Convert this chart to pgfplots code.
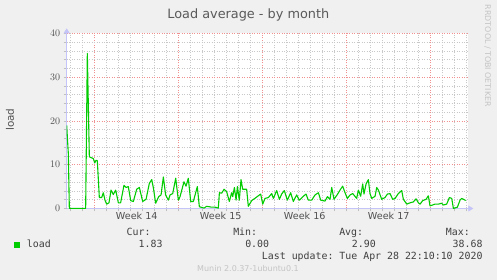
\documentclass[border=0pt]{standalone}
\usepackage{fontspec}
\setmainfont{DejaVu Sans}
\setmonofont{DejaVu Sans Mono}
\usepackage{pgfplots}
\pgfplotsset{compat=1.18}
\usetikzlibrary{arrows.meta}
\definecolor{bg}{HTML}{F0F0F0}
\definecolor{gridred}{HTML}{F09090}
\definecolor{gridgray}{HTML}{C8C8C8}
\definecolor{axiscol}{HTML}{C4C4F8}
\definecolor{linegreen}{HTML}{00CC00}
\definecolor{titlegray}{HTML}{5A5A5A}
\definecolor{labgray}{HTML}{505050}
\definecolor{leggray}{HTML}{404040}
\definecolor{faint}{HTML}{C4C4C4}
\begin{document}
\begin{tikzpicture}[x=1pt,y=1pt]
\fill[bg] (0,0) rectangle (497,280);
\begin{axis}[
  at={(66.7pt,71.5pt)}, anchor=south west,
  scale only axis, width=401.6pt, height=175.2pt,
  xmin=-2.333, xmax=31.13, ymin=0, ymax=40,
  axis background/.style={fill=white},
  axis x line=bottom, axis y line=left,
  axis line style={draw=axiscol, line width=0.8pt, shorten >=-5pt, -{Triangle[length=5pt,width=6pt]}},
  xtick={0,7,14,21,28}, xticklabels={},
  minor xtick={-2,-1,1,2,3,4,5,6,8,9,10,11,12,13,15,16,17,18,19,20,22,23,24,25,26,27,29,30,31},
  ytick={0,10,20,30,40},
  minor ytick={2,4,6,8,12,14,16,18,22,24,26,28,32,34,36,38},
  grid=both,
  major grid style={draw=gridred, dash pattern=on 1pt off 1.5pt, line width=0.6pt},
  minor grid style={draw=gridgray, dash pattern=on 1pt off 1.5pt, line width=0.6pt},
  tick align=outside, major tick length=3pt, minor tick length=3pt,
  tick style={draw=gray!50, line width=0.5pt},
  extra x ticks={3.5,10.5,17.5,24.5},
  extra x tick labels={Week 14,Week 15,Week 16,Week 17},
  extra x tick style={grid=none, major tick length=0pt, tick style={draw=none}},
  ticklabel style={font=\fontsize{9.6}{11}\selectfont, text=labgray},
  clip=true,
]
\addplot[linegreen, line width=1.1pt, line join=round] coordinates {
(-2.336,19.0) (-2.197,12.5) (-2.114,0) (-0.753,0) (-0.614,35.4) (-0.447,11.8) (-0.114,11.4) (0.0,10.4) (0.108,11.0) (0.219,10.9) (0.386,2.5) (0.581,2.5) (0.719,3.6) (0.858,1.9) (0.997,1.0) (1.19,1.3) (1.36,4.2) (1.55,3.2) (1.75,4.2) (1.97,1.3) (2.16,1.3) (2.44,5.3) (2.61,4.8) (2.80,5.0) (3.00,1.8) (3.22,1.6) (3.50,4.4) (3.72,4.8) (4.00,1.6) (4.28,2.1) (4.55,5.7) (4.75,6.6) (4.89,4.7) (5.08,1.2) (5.33,2.7) (5.53,3.1) (5.72,7.2) (5.91,3.1) (6.14,1.9) (6.28,3.1) (6.50,3.4) (6.75,6.9) (6.97,1.9) (7.11,2.7) (7.44,6.1) (7.61,5.1) (7.80,6.9) (8.00,1.6) (8.22,1.6) (8.55,5.0) (8.72,0.4) (9.11,0.1) (9.33,0.5) (9.75,0.3) (10.03,0.3) (10.30,0.1) (10.39,3.6) (10.58,3.5) (10.78,4.4) (11.0,3.8) (11.22,1.6) (11.41,3.6) (11.50,2.7) (11.64,4.8) (11.78,1.9) (11.89,5.0) (12.05,1.9) (12.19,6.6) (12.33,4.4) (12.66,4.4) (12.80,0.5) (13.08,1.8) (13.44,2.5) (13.83,3.3) (14.0,1.0) (14.19,2.3) (14.47,2.5) (14.75,3.4) (14.89,2.3) (15.16,4.1) (15.39,2.1) (15.58,3.3) (15.80,4.1) (16.05,1.9) (16.33,3.6) (16.55,1.6) (16.83,3.1) (17.05,1.9) (17.39,2.8) (17.61,3.3) (17.80,1.9) (18.08,1.9) (18.36,3.1) (18.64,3.6) (18.83,1.9) (19.19,1.7) (19.39,2.7) (19.61,2.1) (19.75,4.8) (19.94,2.1) (20.22,3.2) (20.44,4.2) (20.66,5.1) (20.86,3.6) (21.05,2.3) (21.28,3.1) (21.50,3.4) (21.83,2.3) (21.97,4.2) (22.16,2.8) (22.33,5.6) (22.44,3.3) (22.61,5.6) (22.80,6.6) (22.94,3.4) (23.08,2.3) (23.36,2.8) (23.50,4.8) (23.64,4.2) (23.91,2.1) (24.19,2.5) (24.39,3.3) (24.61,3.4) (24.83,2.1) (25.03,2.3) (25.30,3.4) (25.58,4.1) (25.72,2.1) (26.0,1.0) (26.28,1.3) (26.55,1.5) (26.78,2.2) (26.97,1.3) (27.11,1.0) (27.33,1.8) (27.61,2.1) (27.80,2.9) (27.94,0.6) (28.36,1.0) (28.64,1.0) (28.91,1.2) (29.05,0.8) (29.33,1.0) (29.55,2.5) (29.75,2.3) (29.89,0.0) (30.22,0.3) (30.44,1.9) (30.58,2.3) (30.72,2.1) (30.91,1.83)
};
\end{axis}
% titles and labels
\node[anchor=base, inner sep=0, text=titlegray, font=\fontsize{12.85}{14}\selectfont] at (248.3,261.7) {Load average - by month};
\node[rotate=90, inner sep=0, text=labgray, font=\fontsize{10.4}{12}\selectfont] at (10,160.3) {load};
\node[rotate=-90, inner sep=0, text=faint, font=\fontsize{7.9}{9}\selectfont] at (487.7,224.2) {RRDTOOL / TOBI OETIKER};
% legend
\fill[linegreen] (14,32.3) rectangle (20,37.7);
\begin{scope}[every node/.style={inner sep=0, text=leggray, font=\fontsize{9.9}{12}\ttfamily}]
\node[anchor=base west] at (26.7,32.7) {load};
\node[anchor=base east] at (150.7,44.3) {Cur:};
\node[anchor=base east] at (162.7,32.7) {1.83};
\node[anchor=base east] at (257.3,44.3) {Min:};
\node[anchor=base east] at (269.3,32.7) {0.00};
\node[anchor=base east] at (363.3,44.3) {Avg:};
\node[anchor=base east] at (376,32.7) {2.90};
\node[anchor=base east] at (470,44.3) {Max:};
\node[anchor=base east] at (482.7,32.7) {38.68};
\node[anchor=base east] at (482.7,20.7) {Last update: Tue Apr 28 22:10:10 2020};
\end{scope}
\node[anchor=base, inner sep=0, text=faint, font=\fontsize{8}{9}\selectfont] at (248,8) {Munin 2.0.37-1ubuntu0.1};
\end{tikzpicture}
\end{document}
